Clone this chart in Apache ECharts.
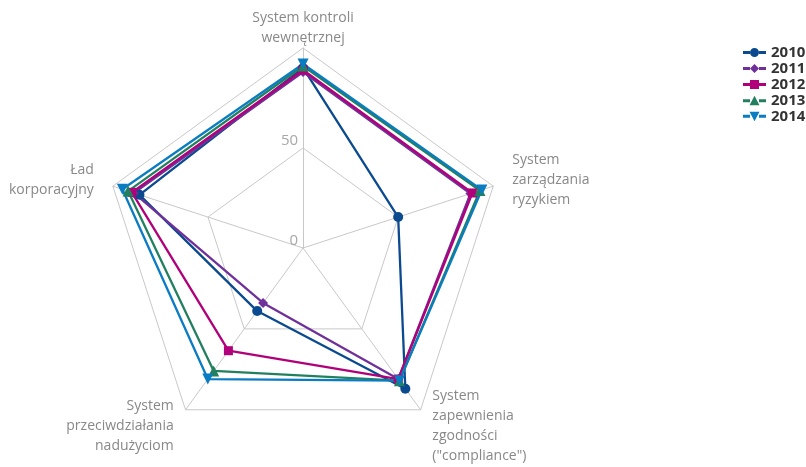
<!DOCTYPE html>
<html>
<head>
<meta charset="utf-8">
<script src="https://cdn.jsdelivr.net/npm/echarts@6/dist/echarts.min.js"></script>
<style>
html,body{margin:0;padding:0;background:#fff;}
#c{width:806px;height:467px;}
</style>
</head>
<body>
<div id="c"></div>
<script>
// Indicators listed counterclockwise starting from the top
var categories = [
  'System kontroli\nwewnętrznej',
  'Ład\nkorporacyjny',
  'System\nprzeciwdziałania\nnadużyciom',
  'System\nzapewnienia\nzgodności\n("compliance")',
  'System\nzarządzania\nryzykiem'
];
var years = ['2010', '2011', '2012', '2013', '2014'];
var v2010 = [90, 86, 39, 87, 50];
var v2011 = [88, 89, 34, 81, 88];
var v2012 = [89, 90, 63.5, 81, 89];
var v2013 = [91, 92, 76, 82, 93];
var v2014 = [92, 95, 81, 82, 94];
var tickMin = 0, tickMax = 100;

var values = [v2010, v2011, v2012, v2013, v2014];
var colors = ['#0b4a8e', '#70309a', '#b0007a', '#23805f', '#0a7cc2'];
var symbols = ['circle', 'diamond', 'rect', 'triangle', 'path://M0,0 L10,0 L5,9 Z'];
var sizes = [10, 10, 9, 11, 11];

// legend icons: a line with the series marker in the middle (23x10 box)
var bars = 'M0,3.6 L7,3.6 L7,6.6 L0,6.6 Z M16,3.6 L23,3.6 L23,6.6 L16,6.6 Z ';
var legendIcons = [
  'path://' + bars + 'M7,5 A4.5,4.5 0 1 1 16,5 A4.5,4.5 0 1 1 7,5 Z',
  'path://' + bars + 'M11.5,0.5 L16,5 L11.5,9.5 L7,5 Z',
  'path://' + bars + 'M7,0.5 L16,0.5 L16,9.5 L7,9.5 Z',
  'path://' + bars + 'M11.5,0 L16.5,9.5 L6.5,9.5 Z',
  'path://' + bars + 'M6.5,0.5 L16.5,0.5 L11.5,10 Z'
];

var font = 'Open Sans';
var chart = echarts.init(document.getElementById('c'));

function indicators(showIdx0Only) {
  return categories.map(function (c, i) {
    var o = { name: showIdx0Only ? (i === 0 ? c : '') : (i === 0 ? '' : c), min: tickMin, max: tickMax };
    if (!showIdx0Only && i === 0) {
      o.axisLabel = {
        show: true, color: '#a8a8a8', fontFamily: font, fontSize: 15, margin: 5,
        verticalAlign: 'bottom', lineHeight: 15,
        formatter: function (v) { return v === tickMax ? '' : v; }
      };
    }
    return o;
  });
}

var radarCommon = {
  center: ['37.6%', '53.1%'],
  radius: 200,
  startAngle: 90,
  splitNumber: 2,
  shape: 'polygon'
};
var nameStyle = { color: '#888', fontFamily: font, fontSize: 14, lineHeight: 20 };

chart.setOption({
  animation: false,
  textStyle: { fontFamily: font },
  legend: {
    orient: 'vertical',
    left: 738,
    top: 40,
    itemWidth: 23,
    itemHeight: 10,
    itemGap: 1,
    symbolKeepAspect: true,
    data: years.map(function (y, i) { return { name: y, icon: legendIcons[i] }; }),
    textStyle: { fontFamily: font, fontSize: 15, fontWeight: 'bold', color: '#333' }
  },
  radar: [
    Object.assign({}, radarCommon, {
      indicator: indicators(false),
      nameGap: 20,
      axisName: nameStyle,
      splitLine: { lineStyle: { color: '#c8c8c8', width: 1 } },
      splitArea: { show: false },
      axisLine: { lineStyle: { color: '#c8c8c8', width: 1 } },
      axisLabel: { show: false }
    }),
    Object.assign({}, radarCommon, {
      indicator: indicators(true),
      nameGap: 0,
      axisName: nameStyle,
      splitLine: { show: false },
      splitArea: { show: false },
      axisLine: { show: false },
      axisLabel: { show: false }
    })
  ],
  series: [{
    type: 'radar',
    radarIndex: 0,
    data: years.map(function (y, i) {
      return {
        name: y,
        value: values[i],
        symbol: symbols[i],
        symbolSize: sizes[i],
        itemStyle: { color: colors[i] },
        lineStyle: { color: colors[i], width: 2.3 }
      };
    })
  }]
});
</script>
</body>
</html>
